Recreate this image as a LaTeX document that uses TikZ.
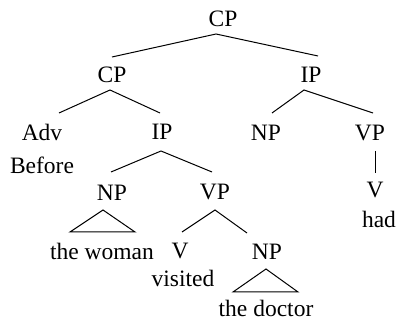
\documentclass[tikz,border=0pt]{standalone}
\usepackage{fontspec}
\setmainfont{Liberation Serif}
\tikzset{
  cat/.style={anchor=base,inner sep=0pt,font=\fontsize{23.5}{28}\selectfont},
  branch/.style={line width=1pt}
}
\begin{document}
\begin{tikzpicture}[x=1pt,y=1pt]
			\useasboundingbox (0,0)rectangle(398,320);
			%labels
			\node[cat] (cp) at (223,293) {CP};
			\node[cat] (cpa) at (112,237) {CP};
			\node[cat] (ipr) at (311,237) {IP};
			\node[cat] (adv) at (42,179) {Adv};
			\node[cat] (before) at (42,146) {Before};
			\node[cat] (ipl) at (162,180) {IP};
			\node[cat] (npr) at (266,179) {NP};
			\node[cat] (vpr) at (370,179) {VP};
			\node[cat] (vr) at (375,122) {V};
			\node[cat] (had) at (379,92) {had};
			\node[cat] (npl) at (112,119) {NP};
			\node[cat] (woman) at (102,60) {the woman};
			\node[cat] (vpm) at (215,120) {VP};
			\node[cat] (vm) at (180,61) {V};
			\node[cat] (visited) at (183,33) {visited};
			\node[cat] (npm) at (267,60) {NP};
			\node[cat] (doctor) at (266,3) {the doctor};
			%branches
			\draw [branch] ([shift={(0,26)}]cpa.base)--([shift={(-7,-7)}]cp.base)--([shift={(7,27)}]ipr.base);
			\draw [branch] ([shift={(17,28)}]adv.base)--([shift={(-2,-7)}]cpa.base)--([shift={(-2,27)}]ipl.base);
			\draw [branch] ([shift={(6,28)}]npr.base)--([shift={(-7,-7)}]ipr.base)--([shift={(3,28)}]vpr.base);
			\draw [branch] ([shift={(5,-10)}]vpr.base)--([shift={(0,25)}]vr.base);
			\draw [branch] ([shift={(-1,29)}]npl.base)--([shift={(-1,-11)}]ipl.base)--([shift={(-3,28)}]vpm.base);
			\draw [branch] ([shift={(2,27)}]vm.base)--([shift={(0,-10)}]vpm.base)--([shift={(-20,27)}]npm.base);
			%triangles
			\draw [branch] ([shift={(-9,-9)}]npl.base)--([shift={(-42,-31)}]npl.base)--([shift={(23,-31)}]npl.base)--cycle;
			\draw [branch] ([shift={(-1,-9)}]npm.base)--([shift={(-34,-32)}]npm.base)--([shift={(31,-32)}]npm.base)--cycle;
\end{tikzpicture}
\end{document}
